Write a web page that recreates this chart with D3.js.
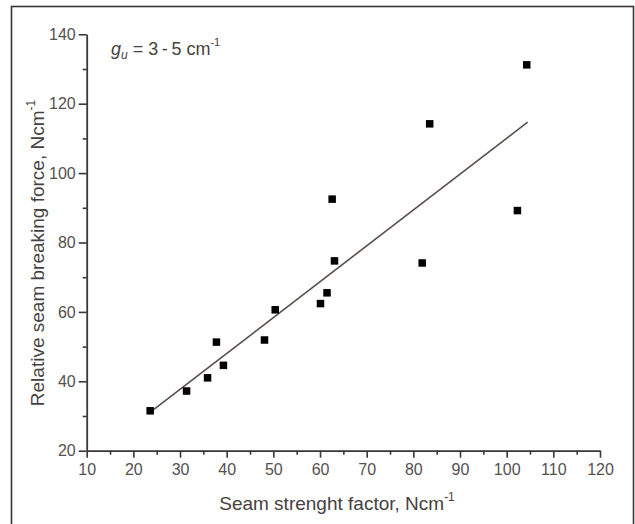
<!DOCTYPE html>
<html>
<head>
<meta charset="utf-8">
<script src="https://cdn.jsdelivr.net/npm/d3@7"></script>
<style>
  html, body { margin: 0; padding: 0; background: #ffffff; }
  svg { display: block; }
  text { font-family: "Liberation Sans", Arial, sans-serif; }
</style>
</head>
<body>
<svg id="chart" width="635" height="524"></svg>
<script>
// Seam strength factor (x) vs relative seam breaking force (y)
const seamStrength = [23.6, 31.4, 35.9, 37.8, 39.3, 48.1, 50.4, 60.1, 61.5, 62.6, 63.1, 81.9, 83.5, 102.3, 104.3];
const breakingForce = [31.5, 37.2, 41.0, 51.3, 44.6, 51.9, 60.6, 62.4, 65.5, 92.5, 74.7, 74.1, 114.2, 89.2, 131.2];

// Linear fit endpoints
const fitX = [24.4, 104.5];
const fitY = [31.9, 114.7];

// Axis ticks
const xTicks = [10, 20, 30, 40, 50, 60, 70, 80, 90, 100, 110, 120];
const xMinor = [15, 25, 35, 45, 55, 65, 75, 85, 95, 105, 115];
const yTicks = [20, 40, 60, 80, 100, 120, 140];
const yMinor = [30, 50, 70, 90, 110, 130];

const svg = d3.select("#chart");

// frame around the figure
svg.append("rect")
  .attr("x", 11.5).attr("y", 6.5)
  .attr("width", 622).attr("height", 530)
  .attr("fill", "#ffffff")
  .attr("stroke", "#3a3535")
  .attr("stroke-width", 1.6);

const x = d3.scaleLinear().domain([10, 120]).range([86.7, 600]);
const y = d3.scaleLinear().domain([20, 140]).range([450.7, 34.3]);

const axisColor = "#3d3636";
const labelColor = "#555050";

function styleAxis(g) {
  g.select(".domain").attr("stroke", axisColor).attr("stroke-width", 1.8);
  g.selectAll(".tick line").attr("stroke", axisColor).attr("stroke-width", 1.6);
  g.selectAll(".tick text")
    .attr("fill", labelColor)
    .style("font-size", "16px")
    .style("font-family", "'Liberation Sans', Arial, sans-serif");
}

// minor ticks
svg.append("g")
  .attr("transform", `translate(0,${y(20)})`)
  .call(d3.axisBottom(x).tickValues(xMinor).tickSize(4).tickSizeOuter(0).tickFormat(""))
  .call(g => { g.select(".domain").remove(); g.selectAll(".tick line").attr("stroke", axisColor).attr("stroke-width", 1.6); });
svg.append("g")
  .attr("transform", `translate(${x(10)},0)`)
  .call(d3.axisLeft(y).tickValues(yMinor).tickSize(4).tickSizeOuter(0).tickFormat(""))
  .call(g => { g.select(".domain").remove(); g.selectAll(".tick line").attr("stroke", axisColor).attr("stroke-width", 1.6); });

// major axes
svg.append("g")
  .attr("transform", `translate(0,${y(20)})`)
  .call(d3.axisBottom(x).tickValues(xTicks).tickSize(7).tickSizeOuter(0).tickPadding(5.5))
  .call(styleAxis);
svg.append("g")
  .attr("transform", `translate(${x(10)},0)`)
  .call(d3.axisLeft(y).tickValues(yTicks).tickSize(8).tickSizeOuter(0).tickPadding(3))
  .call(styleAxis);

// fit line
svg.append("line")
  .attr("x1", x(fitX[0])).attr("y1", y(fitY[0]))
  .attr("x2", x(fitX[1])).attr("y2", y(fitY[1]))
  .attr("stroke", "#5a4e4c")
  .attr("stroke-width", 1.6);

// data markers
const ms = 7.5;
svg.append("g").selectAll("rect")
  .data(seamStrength.map((v, i) => [v, breakingForce[i]]))
  .join("rect")
  .attr("x", d => x(d[0]) - ms / 2)
  .attr("y", d => y(d[1]) - ms / 2)
  .attr("width", ms).attr("height", ms)
  .attr("fill", "#000000");

// axis titles
const xt = svg.append("text")
  .attr("x", 337).attr("y", 510)
  .attr("text-anchor", "middle")
  .attr("fill", "#474141")
  .style("font-size", "19px");
xt.append("tspan").text("Seam strenght factor, Ncm");
xt.append("tspan").attr("dy", -9).style("font-size", "12px").text("-1");

const yt = svg.append("text")
  .attr("transform", `translate(43.5,${253}) rotate(-90)`)
  .attr("text-anchor", "middle")
  .attr("fill", "#474141")
  .style("font-size", "19px");
yt.append("tspan").text("Relative seam breaking force, Ncm");
yt.append("tspan").attr("dy", -9).style("font-size", "12px").text("-1");

// annotation
const ann = svg.append("text")
  .attr("x", 111).attr("y", 55)
  .attr("fill", "#474141")
  .style("font-size", "18px");
ann.append("tspan").style("font-style", "italic").text("g");
ann.append("tspan").attr("dy", 4).style("font-style", "italic").style("font-size", "12px").text("u");
ann.append("tspan").attr("dy", -4).text(" = 3\u2009-\u20095 cm");
ann.append("tspan").attr("dy", -9).style("font-size", "11px").text("-1");
</script>
</body>
</html>
